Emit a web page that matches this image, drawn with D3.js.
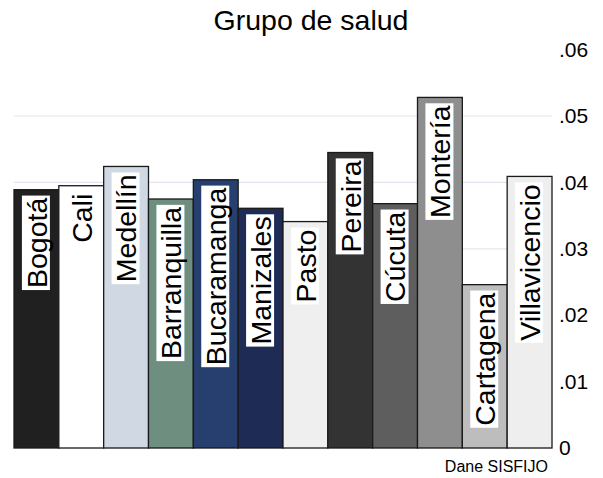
<!DOCTYPE html>
<html>
<head>
    <meta charset="utf-8">
    <script src="https://cdn.jsdelivr.net/npm/d3@7"></script>
    <style>
        html, body {
            padding: 0;
            margin: 0;
            background: white;
        }
        text {
            font-family: "Liberation Sans", Arial, sans-serif;
        }
    </style>
</head>
<body>
<script>
    var width = 603;
    var height = 478;

    // data
    var cities = ["Bogotá", "Cali", "Medellín", "Barranquilla", "Bucaramanga", "Manizales",
        "Pasto", "Pereira", "Cúcuta", "Montería", "Cartagena", "Villavicencio"];
    var values = [0.0389, 0.0395, 0.0424, 0.0375, 0.0404, 0.0361,
        0.0341, 0.0445, 0.0368, 0.0528, 0.0246, 0.0409];
    var colors = ["#202020", "#ffffff", "#d0d8e4", "#6e8f80", "#263f6e", "#1e2b55",
        "#efefef", "#333333", "#5e5e5e", "#8e8e8e", "#bdbdbd", "#eeeeee"];
    var yTicks = [0, 0.01, 0.02, 0.03, 0.04, 0.05, 0.06];
    var gridTicks = [0.01, 0.02, 0.03, 0.04, 0.05];

    var svg = d3.select('body').append('svg')
        .attr('width', width)
        .attr('height', height);

    var x = d3.scaleBand()
        .domain(cities)
        .range([14, 552])
        .padding(0);

    var y = d3.scaleLinear()
        .domain([0, 0.06])
        .range([448, 49.6]);

    // title
    svg.append("text")
        .attr("x", 311)
        .attr("y", 30)
        .attr("text-anchor", "middle")
        .style("font-size", "28.5px")
        .text("Grupo de salud");

    // grid lines
    svg.selectAll(".grid")
        .data(gridTicks)
        .enter().append("line")
        .attr("x1", 14)
        .attr("x2", 552)
        .attr("y1", function (d) { return y(d); })
        .attr("y2", function (d) { return y(d); })
        .style("stroke", "#e4e4ee")
        .style("stroke-width", 1.2);

    // right axis labels (no line)
    var axis = d3.axisRight(y)
        .tickValues(yTicks)
        .tickSize(0)
        .tickPadding(0)
        .tickFormat(function (d) { return d === 0 ? "0" : d3.format(".2f")(d).replace(/^0/, ""); });

    var g = svg.append("g")
        .attr("transform", "translate(559,0)")
        .call(axis);
    g.select(".domain").remove();
    g.selectAll("text")
        .style("font-size", "21px")
        .style("font-family", "'Liberation Sans', Arial, sans-serif")
        .attr("fill", "#000");

    // bars
    svg.selectAll(".bar")
        .data(cities)
        .enter().append("rect")
        .attr("x", function (d) { return x(d); })
        .attr("width", x.bandwidth())
        .attr("y", function (d, i) { return y(values[i]); })
        .attr("height", function (d, i) { return y(0) - y(values[i]); })
        .style("fill", function (d, i) { return colors[i]; })
        .style("stroke", "#1a1a1a")
        .style("stroke-width", 1.3);

    // labels inside bars
    var fs = 28.5;
    var labels = svg.selectAll(".lab")
        .data(cities)
        .enter().append("g")
        .attr("transform", function (d, i) {
            return "translate(" + (x(d) + x.bandwidth() / 2) + "," + (y(values[i]) + 8) + ") rotate(-90)";
        });

    labels.append("text")
        .attr("text-anchor", "end")
        .attr("dy", "0.36em")
        .style("font-size", fs + "px")
        .text(function (d) { return d; })
        .each(function () {
            var bb = this.getBBox();
            d3.select(this.parentNode).insert("rect", "text")
                .attr("x", bb.x - 2)
                .attr("y", -14.5)
                .attr("width", bb.width + 4)
                .attr("height", 28)
                .style("fill", "white");
        });

    // source note
    svg.append("text")
        .attr("x", 548)
        .attr("y", 472)
        .attr("text-anchor", "end")
        .style("font-size", "16px")
        .text("Dane SISFIJO");
</script>
</body>
</html>
